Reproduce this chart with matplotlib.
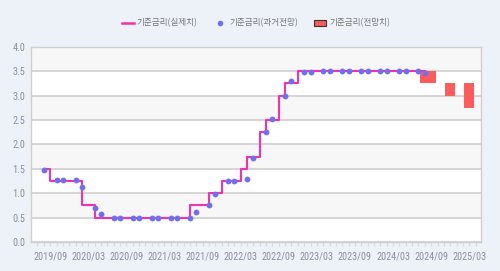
import matplotlib
matplotlib.use("Agg")
import matplotlib.pyplot as plt
from matplotlib.lines import Line2D
from matplotlib.patches import Patch
import numpy as np

# ---------------- data ----------------
actual_start = "2019/08"
actual_rates = [
    1.5, 1.5, 1.25, 1.25, 1.25,                                       # 2019 Aug-Dec
    1.25, 1.25, 0.75, 0.75, 0.5, 0.5, 0.5, 0.5, 0.5, 0.5, 0.5, 0.5,   # 2020
    0.5, 0.5, 0.5, 0.5, 0.5, 0.5, 0.5, 0.75, 0.75, 0.75, 1.0, 1.0,    # 2021
    1.25, 1.25, 1.25, 1.5, 1.75, 1.75, 2.25, 2.5, 2.5, 3.0, 3.25, 3.25,  # 2022
    3.5, 3.5, 3.5, 3.5, 3.5, 3.5, 3.5, 3.5, 3.5, 3.5, 3.5, 3.5,       # 2023
    3.5, 3.5, 3.5, 3.5, 3.5, 3.5, 3.5, 3.5,                           # 2024 Jan-Aug
]

past_months = [
    "2019/08", "2019/10", "2019/11", "2020/01", "2020/02", "2020/04", "2020/05",
    "2020/07", "2020/08", "2020/10", "2020/11", "2021/01", "2021/02", "2021/04",
    "2021/05", "2021/07", "2021/08", "2021/10", "2021/11", "2022/01", "2022/02",
    "2022/04", "2022/05", "2022/07", "2022/08", "2022/10", "2022/11", "2023/01",
    "2023/02", "2023/04", "2023/05", "2023/07", "2023/08", "2023/10", "2023/11",
    "2024/01", "2024/02", "2024/04", "2024/05", "2024/07", "2024/08",
]
past_values = [
    1.47, 1.27, 1.27, 1.27, 1.13, 0.70, 0.57,
    0.50, 0.50, 0.50, 0.50, 0.50, 0.50, 0.50,
    0.50, 0.50, 0.62, 0.76, 0.99, 1.24, 1.25,
    1.30, 1.73, 2.25, 2.51, 2.99, 3.29, 3.48,
    3.49, 3.50, 3.50, 3.50, 3.50, 3.50, 3.50,
    3.50, 3.50, 3.50, 3.50, 3.50, 3.46,
]

fc_months = ["2024/08", "2024/09", "2024/12", "2025/03"]
fc_low = [3.25, 3.25, 3.0, 2.75]
fc_high = [3.5, 3.5, 3.25, 3.25]

tick_labels = ["2019/09", "2020/03", "2020/09", "2021/03", "2021/09", "2022/03",
               "2022/09", "2023/03", "2023/09", "2024/03", "2024/09", "2025/03"]
y_ticks = [0.0, 0.5, 1.0, 1.5, 2.0, 2.5, 3.0, 3.5, 4.0]

legend_labels = ["기준금리(실제치)", "기준금리(과거전망)", "기준금리(전망치)"]


def midx(s):
    y, m = s.split("/")
    return (int(y) - 2019) * 12 + (int(m) - 9)


# ---------------- style ----------------
BG = "#edf1f8"
PINK = "#f52fb0"
BLUE = "#6e6ff2"
RED = "#ff5b5b"
TXT = "#8a91a5"
GRID = "#d2d2d2"
NUM_FONT = ["Roboto Condensed", "DejaVu Sans"]
KR_FONT = ["Noto Sans CJK KR", "DejaVu Sans"]

fig = plt.figure(figsize=(5.0, 2.71), dpi=100, facecolor=BG)
ax = fig.add_axes([31 / 500, 1 - 242 / 271, 450 / 500, (242 - 46.7) / 271])
ax.set_facecolor("white")

# alternating bands (top band shaded)
for i in range(len(y_ticks) - 1):
    if i % 2 == 1:
        ax.axhspan(y_ticks[i], y_ticks[i + 1], color="#f7f7f7", zorder=0, lw=0)

ax.set_ylim(0, 4.0)
ax.set_xlim(-3.02, 67.85)
ax.set_yticks(y_ticks)
ax.set_yticklabels([f"{v:.1f}" for v in y_ticks])
ax.grid(axis="y", color=GRID, lw=1.3, zorder=1)
ax.set_axisbelow(True)

xt = [midx(s) for s in tick_labels]
ax.set_xticks(xt)
ax.set_xticklabels(tick_labels)
ax.set_xticks(np.arange(-2, 68, 1), minor=True)
ax.tick_params(axis="x", which="both", length=3, color="#d5d9e2", width=0.8,
               pad=4, labelsize=7.4, labelcolor=TXT)
ax.tick_params(axis="y", length=0, pad=4, labelsize=7.4, labelcolor=TXT)
for lab in ax.get_xticklabels() + ax.get_yticklabels():
    lab.set_family(NUM_FONT)

for sp in ax.spines.values():
    sp.set_color("#cfcfcf")
    sp.set_linewidth(1.0)

# forecast bars
fx = [midx(s) for s in fc_months]
ax.bar(fx, np.array(fc_high) - np.array(fc_low), bottom=fc_low, width=1.5,
       color=RED, lw=0, zorder=2)

# actual step line
x0 = midx(actual_start)
ax_x = np.arange(x0, x0 + len(actual_rates))
ax.plot(ax_x, actual_rates, drawstyle="steps-pre", color=PINK, lw=1.5, zorder=3)

# past forecast dots
px = [midx(s) for s in past_months]
ax.plot(px, past_values, "o", color=BLUE, ms=4.2, mew=0, zorder=4)

# legend
handles = [
    Line2D([0], [0], color=PINK, lw=1.8),
    Line2D([0], [0], marker="o", color=BLUE, ls="none", ms=4, mew=0),
    Patch(facecolor=RED, edgecolor="#333333", lw=0.8),
]
leg = fig.legend(handles, legend_labels, loc="center", bbox_to_anchor=(0.512, 1 - 23 / 271),
                 ncol=3, frameon=False, handlelength=1.4, handletextpad=0.35,
                 columnspacing=1.9, prop={"family": KR_FONT, "size": 6.2})
for t in leg.get_texts():
    t.set_color("#777777")

fig.savefig("out.png", dpi=100, facecolor=BG)
